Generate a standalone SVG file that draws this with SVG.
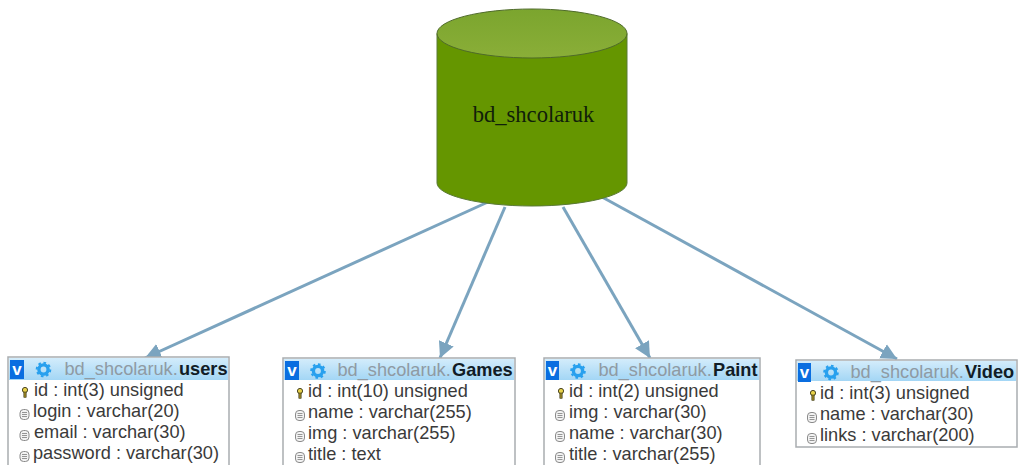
<svg xmlns="http://www.w3.org/2000/svg" width="1019" height="465" viewBox="0 0 1019 465">
<style>
text{font-family:"Liberation Sans",Arial,sans-serif}
.f{font-size:18.200px;fill:#3a3a3a}
.s{font-size:18.200px;fill:#8f9aa3}
.b{font-size:18.200px;font-weight:bold;fill:#111c26}
.box{fill:#fff;stroke:#a9adb0;stroke-width:1.5}
.hd{fill:url(#hd)}
.v{font-size:17px;font-weight:bold;fill:#fff}
.vb{fill:#0a6ee0}
.g{fill:none;stroke:#28a0ee;stroke-width:3.4}
.c{stroke:#7ba4bf;stroke-width:3;fill:none;marker-end:url(#ah)}
</style>
<defs>
<marker id="ah" markerUnits="userSpaceOnUse" markerWidth="18" markerHeight="18" refX="16" refY="9" orient="auto"><path d="M0 1L16 9L0 17Z" fill="#7ba4bf"/></marker>
<linearGradient id="hd" x1="0" y1="0" x2="0" y2="1"><stop offset="0" stop-color="#d3ecfb"/><stop offset="1" stop-color="#a3d6f5"/></linearGradient>
<linearGradient id="tp" x1="0" y1="0" x2="0" y2="1"><stop offset="0" stop-color="#7ba52e"/><stop offset="1" stop-color="#8aae38"/></linearGradient>
<g id="gear"><circle r="4.6" class="g"/><circle r="6.8" fill="none" stroke="#28a0ee" stroke-width="2" stroke-dasharray="2.6 2.7"/></g>
<g id="key"><circle cy="-2" r="2.6" fill="#e8d24a" stroke="#4a4420" stroke-width="1"/><rect x="-1.2" y="0" width="2.4" height="5.5" fill="#8c7a20" stroke="#3c3a20" stroke-width=".5"/></g>
<g id="fld"><rect x="-4.500" y="-4.500" width="9" height="10" rx="3.500" fill="#f3f3f3" stroke="#8a8a8a"/><path d="M-2.500 -1.500H2.500M-2.500 .5H2.500M-2.500 2.500H2.500" stroke="#8a8a8a" stroke-width=".9"/></g>
</defs>
<rect width="1019" height="465" fill="#fff"/>
<g id="connectors">
<line class="c" x1="488" y1="202" x2="145" y2="358"/>
<line class="c" x1="505" y1="207" x2="440" y2="358"/>
<line class="c" x1="563" y1="207" x2="650" y2="358"/>
<line class="c" x1="602" y1="197" x2="897" y2="359"/>
</g>
<g id="db">
<path d="M437 33.500V183C437 195.500 479.500 206 532 206S627 195.500 627 183V33.500Z" fill="#659600" stroke="#5a7a35" stroke-width="1"/>
<ellipse cx="532" cy="33.500" rx="95" ry="24.500" fill="url(#tp)" stroke="#4f6b2a" stroke-width="1"/>
<text x="533.500" y="122" text-anchor="middle" style="font-family:'Liberation Serif','Times New Roman',serif;font-size:22.600px" fill="#10200a">bd_shcolaruk</text>
</g>
<g id="users">
<rect class="box" x="8" y="357" width="221" height="112"/>
<rect class="hd" x="9" y="358" width="219" height="22"/>
<rect class="vb" x="10" y="360" width="14" height="19"/><text class="v" x="17" y="375" text-anchor="middle">v</text>
<use href="#gear" x="43.500" y="369.500"/>
<text class="s" x="64.500" y="375">bd_shcolaruk.</text><text class="b" x="179" y="375">users</text>
<use href="#key" x="25" y="392"/><text class="f" x="34" y="396">id : int(3) unsigned</text>
<use href="#fld" x="24.500" y="414"/><text class="f" x="33" y="417">login : varchar(20)</text>
<use href="#fld" x="24.500" y="435"/><text class="f" x="34" y="438">email : varchar(30)</text>
<use href="#fld" x="24.500" y="456"/><text class="f" x="33" y="459">password : varchar(30)</text>
</g>
<g id="games">
<rect class="box" x="283" y="358" width="232" height="112"/>
<rect class="hd" x="284" y="359" width="230" height="21"/>
<rect class="vb" x="285" y="361" width="14" height="19"/><text class="v" x="292" y="376" text-anchor="middle">v</text>
<use href="#gear" x="318" y="371"/>
<text class="s" x="337.500" y="376">bd_shcolaruk.</text><text class="b" x="452" y="376">Games</text>
<use href="#key" x="300" y="393"/><text class="f" x="308" y="397">id : int(10) unsigned</text>
<use href="#fld" x="300" y="415"/><text class="f" x="308" y="418">name : varchar(255)</text>
<use href="#fld" x="300" y="436"/><text class="f" x="308" y="439">img : varchar(255)</text>
<use href="#fld" x="300" y="457"/><text class="f" x="308" y="460">title : text</text>
</g>
<g id="paint">
<rect class="box" x="544" y="358" width="216" height="112"/>
<rect class="hd" x="545" y="359" width="214" height="21"/>
<rect class="vb" x="546" y="361" width="13" height="19"/><text class="v" x="552.500" y="376" text-anchor="middle">v</text>
<use href="#gear" x="578" y="371"/>
<text class="s" x="598.500" y="376">bd_shcolaruk.</text><text class="b" x="713" y="376">Paint</text>
<use href="#key" x="561" y="393"/><text class="f" x="569" y="397">id : int(2) unsigned</text>
<use href="#fld" x="560" y="415"/><text class="f" x="569" y="418">img : varchar(30)</text>
<use href="#fld" x="560" y="436"/><text class="f" x="569" y="439">name : varchar(30)</text>
<use href="#fld" x="560" y="457"/><text class="f" x="569" y="460">title : varchar(255)</text>
</g>
<g id="video">
<rect class="box" x="796" y="360" width="221" height="87"/>
<rect class="hd" x="797" y="361" width="219" height="20"/>
<rect class="vb" x="798" y="363" width="13" height="19"/><text class="v" x="804.500" y="378" text-anchor="middle">v</text>
<use href="#gear" x="831" y="372.500"/>
<text class="s" x="850.500" y="378">bd_shcolaruk.</text><text class="b" x="965" y="378">Video</text>
<use href="#key" x="813" y="395"/><text class="f" x="820" y="399">id : int(3) unsigned</text>
<use href="#fld" x="812" y="417"/><text class="f" x="820" y="420">name : varchar(30)</text>
<use href="#fld" x="812" y="438"/><text class="f" x="820" y="441">links : varchar(200)</text>
</g>
</svg>
